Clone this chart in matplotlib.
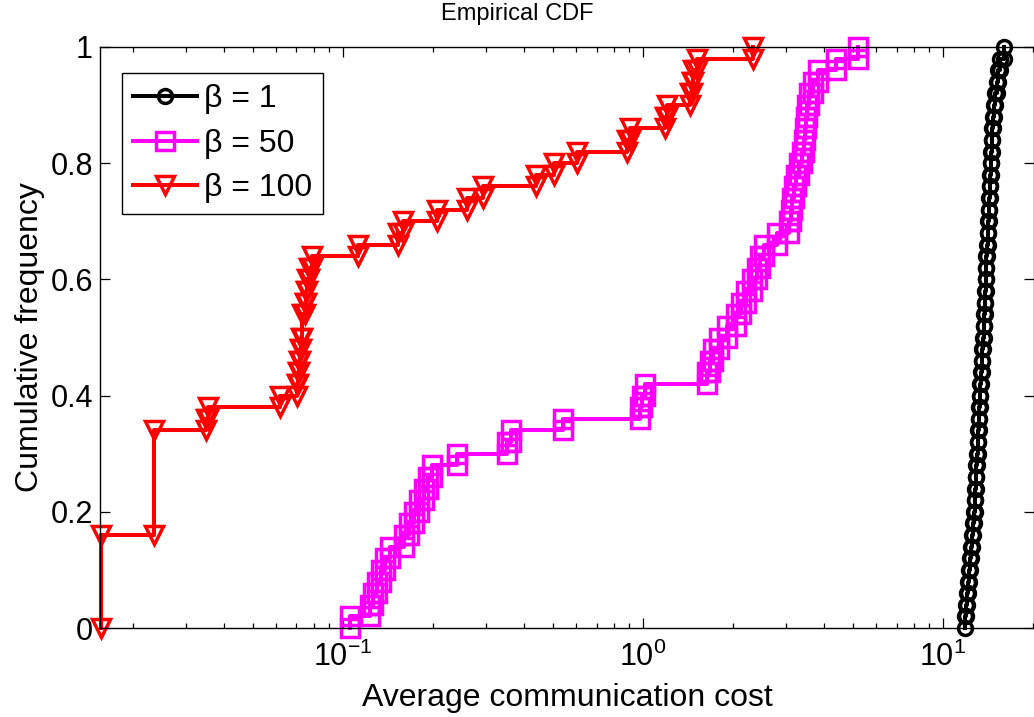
"""
Empirical CDF of the average communication cost for three beta values,
drawn as cdfplot-style stairs on a log x axis.
"""

import numpy as np
import matplotlib
matplotlib.use("Agg")
import matplotlib.pyplot as plt
from matplotlib.ticker import LogLocator, FixedLocator

# Samples (50 runs per beta)
cost_beta1 = [11.84, 11.93, 12.02, 12.12, 12.21, 12.30, 12.40, 12.49, 12.59, 12.69,
              12.74, 12.78, 12.83, 12.88, 12.98, 13.03, 13.08, 13.13, 13.18, 13.28,
              13.33, 13.39, 13.44, 13.49, 13.59, 13.65, 13.70, 13.75, 13.80, 13.86,
              13.91, 13.96, 14.02, 14.07, 14.13, 14.18, 14.23, 14.29, 14.34, 14.40,
              14.46, 14.51, 14.57, 14.68, 14.79, 14.91, 15.08, 15.25, 15.49, 15.97]

cost_beta50 = [0.1055, 0.1230, 0.1259, 0.1298, 0.1339, 0.1380, 0.1435, 0.1597, 0.1660, 0.1725,
               0.1792, 0.1862, 0.1920, 0.1980, 0.2399, 0.3521, 0.3631, 0.5412, 0.9772, 0.9924,
               1.0155, 1.6345, 1.6725, 1.7113, 1.7920, 1.9055, 2.0417, 2.1216, 2.2045, 2.3083,
               2.3988, 2.4547, 2.5313, 2.7977, 3.0674, 3.1149, 3.1389, 3.1874, 3.2359, 3.3113,
               3.3884, 3.4408, 3.4674, 3.4940, 3.5209, 3.5754, 3.6869, 3.8325, 4.4003, 5.2083]

cost_beta100 = [0.0156, 0.0156, 0.0156, 0.0156, 0.0156, 0.0156, 0.0156, 0.0156,
                0.0234, 0.0234, 0.0234, 0.0234, 0.0234, 0.0234, 0.0234, 0.0234, 0.0234,
                0.0349, 0.0355, 0.0617,
                0.0703, 0.0708, 0.0713, 0.0719, 0.0724, 0.0730, 0.0730,
                0.0747, 0.0753, 0.0759, 0.0770, 0.0788,
                0.1122, 0.1525, 0.1585, 0.2057, 0.2590, 0.2929, 0.4398, 0.5050,
                0.6026, 0.8844, 0.9050, 1.1840, 1.2023, 1.4340, 1.4563, 1.4678,
                1.5136, 2.3263]

labels = ["\u03b2 = 1", "\u03b2 = 50", "\u03b2 = 100"]
colors = ["#000000", "#ff00ff", "#ff0000"]
markers = ["o", "s", "v"]
marker_sizes = [10, 12.5, 13.5]

y_ticks = [0, 0.2, 0.4, 0.6, 0.8, 1]
y_tick_labels = ["0", "0.2", "0.4", "0.6", "0.8", "1"]


def ecdf_stairs(samples):
    """
    Build the corner points of an empirical CDF the way cdfplot does,
    so that every step gets a marker at both ends.
    """
    values, counts = np.unique(np.asarray(samples, dtype=float), return_counts=True)
    cum = np.cumsum(counts) / counts.sum()
    xs = np.repeat(values, 2)
    ys = np.concatenate([[0.0], np.repeat(cum, 2)[:-1]])
    return xs, ys


def main():
    plt.rcParams["font.family"] = ["Liberation Sans", "DejaVu Sans"]
    plt.rcParams["mathtext.fontset"] = "custom"
    plt.rcParams["mathtext.rm"] = "Liberation Sans"

    fig = plt.figure(figsize=(10.34, 7.17), dpi=100)
    ax = fig.add_axes([100 / 1034, 89 / 717, 934 / 1034, 581 / 717])

    series = [cost_beta1, cost_beta50, cost_beta100]
    for data, lab, col, mk, ms in zip(series, labels, colors, markers, marker_sizes):
        xs, ys = ecdf_stairs(data)
        ax.plot(xs, ys, color=col, lw=2.9, marker=mk, ms=ms, mew=2.5,
                mfc="none", mec=col, label=lab, clip_on=False)

    ax.set_xscale("log")
    ax.set_xlim(0.0155, 20.1)
    ax.set_ylim(0, 1)

    ax.yaxis.set_major_locator(FixedLocator(y_ticks))
    ax.set_yticklabels(y_tick_labels)
    ax.xaxis.set_major_locator(LogLocator(base=10, numticks=10))
    ax.xaxis.set_minor_locator(LogLocator(base=10, subs=np.arange(2, 10), numticks=20))

    ax.tick_params(axis="both", which="major", direction="in", length=7, width=0.9,
                   top=True, right=True, labelsize=22)
    ax.tick_params(axis="y", which="major", pad=5)
    ax.tick_params(axis="x", which="major", pad=10)
    ax.tick_params(axis="x", which="minor", direction="in", length=3.6, width=0.9,
                   top=True)
    for sp in ax.spines.values():
        sp.set_linewidth(1.0)

    ax.set_xlabel("Average communication cost", fontsize=23, labelpad=7)
    ax.set_ylabel("Cumulative frequency", fontsize=23, labelpad=4)
    fig.text(517 / 1034, 1 - 14 / 717, "Empirical CDF", fontsize=17,
             ha="center", va="center")

    leg = ax.legend(loc="upper left", bbox_to_anchor=(0.0236, 0.955), fontsize=23,
                    frameon=True, fancybox=False, edgecolor="black", framealpha=1,
                    handlelength=2.0, handletextpad=0.2, borderpad=0.35,
                    labelspacing=0.45, borderaxespad=0, numpoints=1)
    leg.get_frame().set_linewidth(1.0)

    fig.savefig("out.png", dpi=100)


if __name__ == "__main__":
    main()
